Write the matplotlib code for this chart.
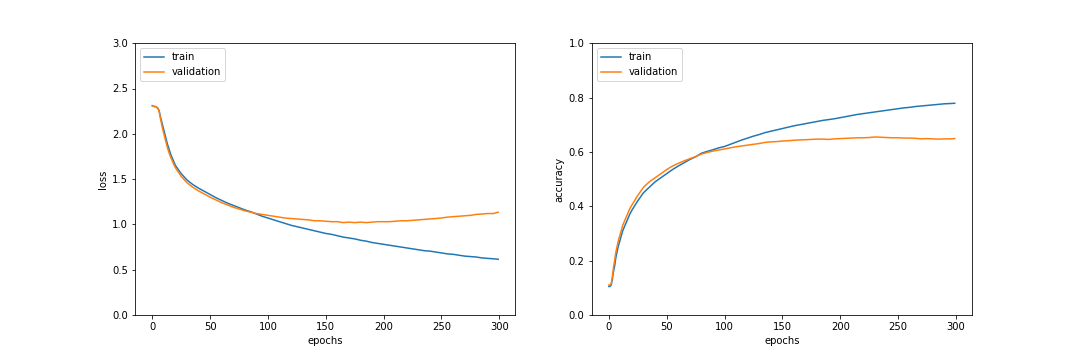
import matplotlib
matplotlib.use("Agg")
import matplotlib.pyplot as plt

epochs = list(range(0, 21)) + list(range(25, 300, 5)) + [299]

train_loss = [2.31, 2.305, 2.30, 2.30, 2.29, 2.28, 2.25, 2.19, 2.14, 2.09, 2.04,
              1.99, 1.94, 1.89, 1.85, 1.81, 1.77, 1.74, 1.71, 1.68, 1.65,
              1.56, 1.49, 1.44, 1.40, 1.365, 1.33, 1.295, 1.265, 1.235, 1.21,
              1.185, 1.16, 1.14, 1.115, 1.09, 1.07, 1.05, 1.03, 1.01, 0.99,
              0.975, 0.96, 0.945, 0.93, 0.915, 0.90, 0.89, 0.875, 0.86, 0.85,
              0.84, 0.825, 0.815, 0.80, 0.79, 0.78, 0.77, 0.76, 0.75, 0.74,
              0.73, 0.72, 0.71, 0.705, 0.695, 0.685, 0.675, 0.67, 0.66, 0.65,
              0.645, 0.64, 0.63, 0.625, 0.62, 0.615]
val_loss = [2.31, 2.305, 2.30, 2.30, 2.29, 2.28, 2.24, 2.17, 2.11, 2.05, 2.00,
            1.95, 1.90, 1.85, 1.81, 1.77, 1.74, 1.71, 1.68, 1.65, 1.625,
            1.53, 1.46, 1.41, 1.37, 1.335, 1.30, 1.27, 1.24, 1.215, 1.19,
            1.17, 1.15, 1.135, 1.12, 1.11, 1.10, 1.09, 1.08, 1.07, 1.065,
            1.06, 1.055, 1.05, 1.04, 1.04, 1.035, 1.03, 1.03, 1.02, 1.025,
            1.02, 1.025, 1.02, 1.025, 1.03, 1.03, 1.03, 1.035, 1.04, 1.04,
            1.045, 1.05, 1.055, 1.06, 1.065, 1.07, 1.08, 1.085, 1.09, 1.095,
            1.10, 1.11, 1.115, 1.12, 1.12, 1.135]

train_acc = [0.105, 0.105, 0.11, 0.13, 0.16, 0.18, 0.21, 0.23, 0.25, 0.265, 0.28,
             0.295, 0.31, 0.32, 0.33, 0.34, 0.35, 0.36, 0.37, 0.378, 0.386,
             0.42, 0.45, 0.47, 0.49, 0.505, 0.52, 0.535, 0.548, 0.56, 0.572,
             0.582, 0.595, 0.602, 0.608, 0.615, 0.62, 0.628, 0.636, 0.644, 0.651,
             0.658, 0.664, 0.671, 0.676, 0.681, 0.686, 0.691, 0.696, 0.700, 0.704,
             0.708, 0.712, 0.716, 0.719, 0.722, 0.726, 0.73, 0.734, 0.738, 0.741,
             0.744, 0.747, 0.75, 0.753, 0.756, 0.759, 0.762, 0.764, 0.767, 0.769,
             0.771, 0.773, 0.775, 0.777, 0.778, 0.779]
val_acc = [0.11, 0.11, 0.115, 0.14, 0.175, 0.20, 0.23, 0.25, 0.27, 0.285, 0.30,
           0.315, 0.33, 0.34, 0.35, 0.36, 0.37, 0.38, 0.39, 0.398, 0.405,
           0.44, 0.47, 0.49, 0.505, 0.52, 0.535, 0.548, 0.558, 0.567, 0.575,
           0.583, 0.592, 0.598, 0.603, 0.607, 0.611, 0.615, 0.619, 0.622, 0.625,
           0.628, 0.631, 0.635, 0.637, 0.638, 0.64, 0.641, 0.643, 0.644, 0.645,
           0.646, 0.647, 0.647, 0.646, 0.648, 0.649, 0.65, 0.651, 0.652, 0.652,
           0.653, 0.655, 0.654, 0.653, 0.652, 0.652, 0.651, 0.651, 0.65, 0.648,
           0.649, 0.648, 0.647, 0.648, 0.648, 0.649]

fig = plt.figure(figsize=(15, 5), dpi=72)
fig.subplots_adjust(bottom=0.125)

ax1 = fig.add_subplot(1, 2, 1)
ax1.plot(epochs, train_loss, label="train")
ax1.plot(epochs, val_loss, label="validation")
ax1.set_ylim(0, 3.0)
ax1.set_xlabel("epochs")
ax1.set_ylabel("loss")
ax1.legend(loc="upper left")

ax2 = fig.add_subplot(1, 2, 2)
ax2.plot(epochs, train_acc, label="train")
ax2.plot(epochs, val_acc, label="validation")
ax2.set_ylim(0, 1.0)
ax2.set_xlabel("epochs")
ax2.set_ylabel("accuracy")
ax2.legend(loc="upper left")

fig.savefig("out.png", dpi=72)
